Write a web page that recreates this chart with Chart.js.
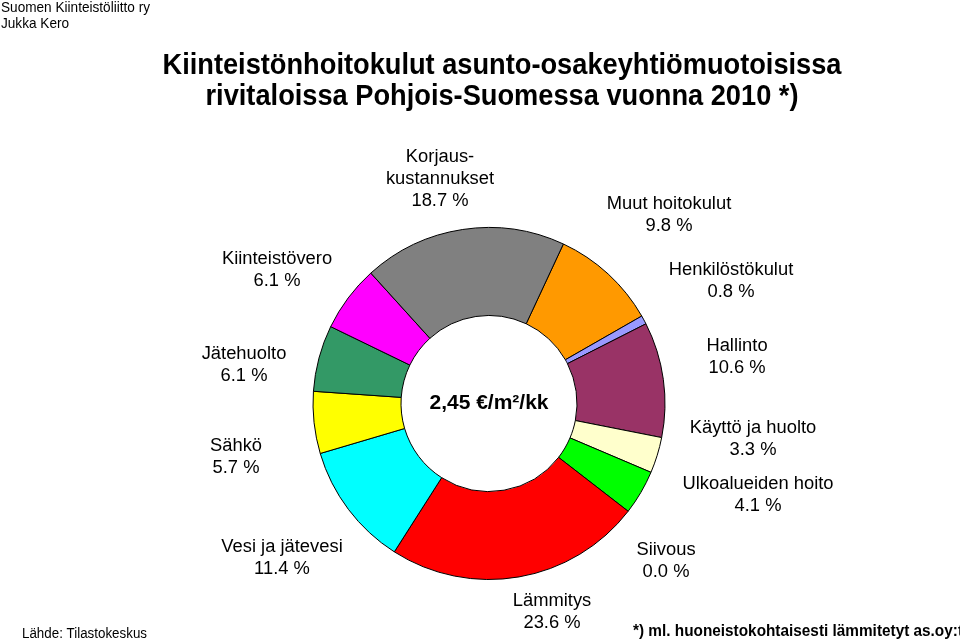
<!DOCTYPE html>
<html>
<head>
<meta charset="utf-8">
<script src="https://cdn.jsdelivr.net/npm/chart.js@4/dist/chart.umd.min.js"></script>
<style>
  html, body { margin: 0; padding: 0; background: #fff; }
  #wrap { width: 960px; height: 643px; position: relative; }
</style>
</head>
<body>
<div id="wrap"><canvas id="kulut" width="960" height="643"></canvas></div>
<script>
// osuudet (%) kiertojärjestyksessä, alkaen Muut hoitokulut
const kategoriat = [
  "Muut hoitokulut", "Henkilöstökulut", "Hallinto", "Käyttö ja huolto",
  "Ulkoalueiden hoito", "Siivous", "Lämmitys", "Vesi ja jätevesi",
  "Sähkö", "Jätehuolto", "Kiinteistövero", "Korjauskustannukset"
];
const osuudet = [9.8, 0.8, 10.6, 3.3, 4.1, 0.0, 23.6, 11.4, 5.7, 6.1, 6.1, 18.7];
const varit = [
  "#FF9900", "#9999FF", "#993366", "#FFFFCC", "#00FF00", "#CCFFFF",
  "#FF0000", "#00FFFF", "#FFFF00", "#339966", "#FF00FF", "#808080"
];
// selitteiden rivit (Korjaus tavutettu kuten alkuperäisessä)
const selitteet = [
  ["Muut hoitokulut"], ["Henkilöstökulut"], ["Hallinto"], ["Käyttö ja huolto"],
  ["Ulkoalueiden hoito"], ["Siivous"], ["Lämmitys"], ["Vesi ja jätevesi"],
  ["Sähkö"], ["Jätehuolto"], ["Kiinteistövero"], ["Korjaus-", "kustannukset"]
];
const keskiTeksti = "2,45 €/m²/kk";
const otsikko = [
  "Kiinteistönhoitokulut asunto-osakeyhtiömuotoisissa",
  "rivitaloissa Pohjois-Suomessa vuonna 2010 *)"
];

// selitteiden paikat (keskikohta x, ensimmäisen rivin y)
const selitePaikat = [
  [669, 204], [731, 270], [737, 346], [753, 428],
  [758, 484], [666, 550], [552, 601], [282, 547],
  [236, 446], [244, 354], [277, 259], [440, 157]
];

function teksti(ctx, s, x, y, font, sx, align) {
  ctx.save();
  ctx.font = font;
  ctx.textAlign = align || "center";
  ctx.textBaseline = "middle";
  ctx.translate(x, y);
  ctx.scale(sx, 1);
  ctx.fillText(s, 0, 0);
  ctx.restore();
}

function leveyteen(ctx, s, font, w) {
  ctx.save();
  ctx.font = font;
  const m = ctx.measureText(s).width;
  ctx.restore();
  return w / m;
}

const tekstit = {
  id: "tekstit",
  afterDraw(chart) {
    const ctx = chart.ctx;
    ctx.fillStyle = "#000";
    const lf = "18px 'Liberation Sans', Arial, sans-serif";

    selitteet.forEach((rivit, i) => {
      const [x, y] = selitePaikat[i];
      rivit.forEach((r, j) => teksti(ctx, r, x, y + j * 22, lf, 1.02));
      const pros = osuudet[i].toFixed(1) + " %";
      teksti(ctx, pros, x, y + rivit.length * 22, lf, 1.02);
    });

    // keskiteksti renkaan sisällä
    const arc = chart.getDatasetMeta(0).data[0];
    teksti(ctx, keskiTeksti, arc.x, arc.y, "bold 21px 'Liberation Sans', Arial, sans-serif", 1.0);

    // otsikko
    const tf = "bold 30px 'Liberation Sans', Arial, sans-serif";
    const tsx = leveyteen(ctx, otsikko[0], tf, 679);
    teksti(ctx, otsikko[0], 502, 66, tf, tsx);
    teksti(ctx, otsikko[1], 502, 97, tf, tsx);

    // vasen yläkulma
    const pf = "15px 'Liberation Sans', Arial, sans-serif";
    const psx = leveyteen(ctx, "Suomen Kiinteistöliitto ry", pf, 149);
    teksti(ctx, "Suomen Kiinteistöliitto ry", 1, 8, pf, psx, "left");
    teksti(ctx, "Jukka Kero", 1, 24, pf, psx, "left");

    // lähde ja alaviite
    const lahf = "14px 'Liberation Sans Narrow', 'Liberation Sans', sans-serif";
    teksti(ctx, "Lähde: Tilastokeskus", 22, 634, lahf, leveyteen(ctx, "Lähde: Tilastokeskus", lahf, 125), "left");
    const af = "bold 17px 'Liberation Sans', Arial, sans-serif";
    const av = "*) ml. huoneistokohtaisesti lämmitetyt as.oy:t";
    teksti(ctx, av, 633, 631, af, leveyteen(ctx, av, af, 330), "left");
  }
};

new Chart(document.getElementById("kulut"), {
  type: "doughnut",
  data: {
    labels: kategoriat,
    datasets: [{
      data: osuudet,
      backgroundColor: varit,
      borderColor: "#000",
      borderWidth: 1
    }]
  },
  options: {
    responsive: false,
    animation: false,
    rotation: 25,
    cutout: "50%",
    layout: { padding: { top: 227, bottom: 63, left: 180, right: 162 } },
    plugins: {
      legend: { display: false },
      tooltip: { enabled: false },
      title: { display: false }
    }
  },
  plugins: [tekstit]
});
</script>
</body>
</html>
